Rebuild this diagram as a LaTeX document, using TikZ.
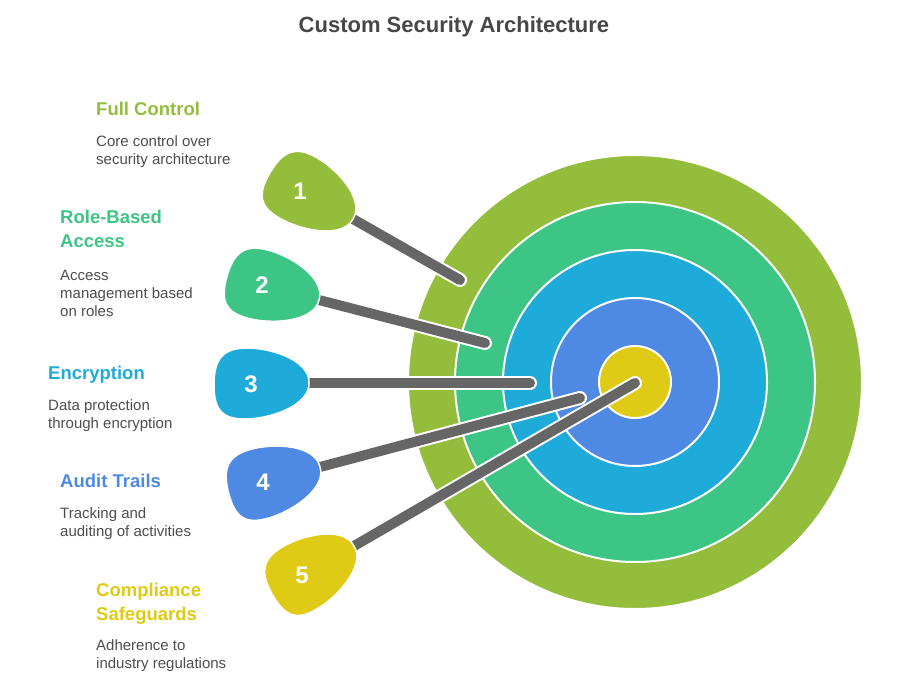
\documentclass[tikz,border=0pt]{standalone}
\usepackage{fontspec}
\setmainfont{Liberation Sans}
\usepackage{xcolor}
\usepackage{tikz}
\usetikzlibrary{positioning}

\definecolor{controlgreen}{HTML}{93BD3A}
\definecolor{rolegreen}{HTML}{3DC585}
\definecolor{cryptblue}{HTML}{1FABD9}
\definecolor{auditblue}{HTML}{4E89E4}
\definecolor{complyyellow}{HTML}{DFCA16}
\definecolor{shaftgray}{HTML}{666666}
\definecolor{titlegray}{HTML}{474747}
\definecolor{descgray}{HTML}{4D4D4D}

\begin{document}
\begin{tikzpicture}[x=1pt, y=-1pt,
        ring/.style={draw=white, line width=2pt},
        flight/.pic={\path[pic actions, draw=white, line width=1.5pt] (0,0) .. controls (1,22) and (-38,36) .. (-64,36) .. controls (-86,36) and (-95,28) .. (-95,2) .. controls (-95,-24) and (-86,-35) .. (-62,-35) .. controls (-36,-35) and (1,-22) .. (0,0) -- cycle;},
        shaft/.style={draw=shaftgray, line width=10pt, line cap=round, preaction={draw=white, line width=14pt, line cap=round}},
        num/.style={text=white, font=\bfseries\fontsize{24}{24}\selectfont},
        head/.style={anchor=north west, inner sep=0pt, align=left, font=\bfseries\fontsize{18.5}{24}\selectfont},
        desc/.style={anchor=north west, inner sep=0pt, align=left, text=descgray, font=\fontsize{15}{18}\selectfont}]
        \useasboundingbox (0,0) rectangle (902,682);

        \node[anchor=base, text=titlegray, font=\bfseries\fontsize{22}{22}\selectfont] (title) at (454,33) {Custom Security Architecture};

        \coordinate (tc) at (635,382);
        \path[ring, fill=controlgreen] (tc) circle (227pt);
        \path[ring, fill=rolegreen] (tc) circle (180pt);
        \path[ring, fill=cryptblue] (tc) circle (132pt);
        \path[ring, fill=auditblue] (tc) circle (84pt);
        \path[ring, fill=complyyellow] (tc) circle (36pt);

        \coordinate (t1) at (353,219);
        \coordinate (t2) at (319,300);
        \coordinate (t3) at (309,383);
        \coordinate (t4) at (320,467);
        \coordinate (t5) at (354,546);

        \coordinate (e1) at (460,280);
        \coordinate (e2) at (485,343);
        \coordinate (e3) at (530,383);
        \coordinate (e4) at (580,398);
        \coordinate (e5) at (635,383);

        \draw[shaft] (t1) -- (e1);
        \draw[shaft] (t2) -- (e2);
        \draw[shaft] (t3) -- (e3);
        \draw[shaft] (t5) -- (e5);
        \draw[shaft] (t4) -- (e4);

        \pic[fill=controlgreen, rotate=-30] at (t1) {flight};
        \pic[fill=rolegreen, rotate=-15] at (t2) {flight};
        \pic[fill=cryptblue] at (t3) {flight};
        \pic[fill=auditblue, rotate=15] at (t4) {flight};
        \pic[fill=complyyellow, rotate=30] at (t5) {flight};

        \node[num] (n1) at (300,191) {1};
        \node[num] (n2) at (262,285) {2};
        \node[num] (n3) at (251,384) {3};
        \node[num] (n4) at (263,482) {4};
        \node[num] (n5) at (302,575) {5};

        \node[head, text=controlgreen] (h1) at (96,101.8) {Full Control};
        \node[desc] (d1) at (96,135.6) {Core control over\\security architecture};

        \node[head, text=rolegreen] (h2) at (60,209.5) {Role-Based\\Access};
        \node[desc] (d2) at (60,270.3) {Access\\management based\\on roles};

        \node[head, text=cryptblue] (h3) at (48,365.8) {Encryption};
        \node[desc] (d3) at (48,399.6) {Data protection\\through encryption};

        \node[head, text=auditblue] (h4) at (60,473.8) {Audit Trails};
        \node[desc] (d4) at (60,507.6) {Tracking and\\auditing of activities};

        \node[head, text=complyyellow] (h5) at (96,582.8) {Compliance\\Safeguards};
        \node[desc] (d5) at (96,639.6) {Adherence to\\industry regulations};
\end{tikzpicture}
\end{document}
